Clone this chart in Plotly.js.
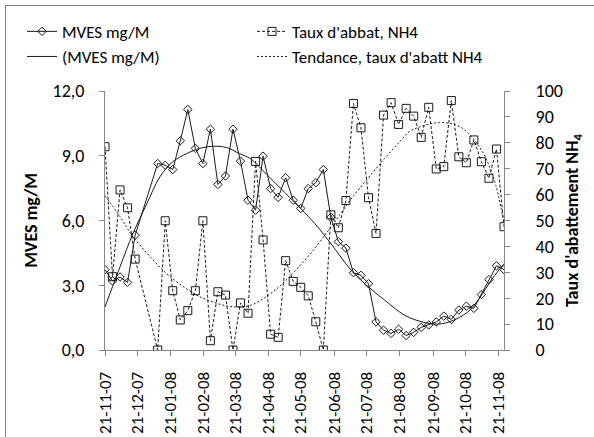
<!DOCTYPE html>
<html><head><meta charset="utf-8">
<script src="https://cdn.plot.ly/plotly-3.0.1.min.js"></script>
<style>
html,body{margin:0;padding:0;background:#fff;overflow:hidden;}
#chart{position:absolute;left:0;top:0;width:594px;height:437px;}
#frame{position:absolute;left:5px;top:5px;width:640px;height:480px;border-left:1px solid #7f7f7f;border-top:1px solid #7f7f7f;pointer-events:none;}
</style>
</head><body>
<div id="chart"></div><div id="frame"></div>
<script>
const sampleDates = ['2007-11-21','2007-11-28','2007-12-05','2007-12-12','2007-12-19',
'2008-01-09','2008-01-16','2008-01-23','2008-01-30','2008-02-06','2008-02-13','2008-02-20','2008-02-27',
'2008-03-05','2008-03-12','2008-03-19','2008-03-26','2008-04-02','2008-04-09','2008-04-16','2008-04-23','2008-04-30',
'2008-05-07','2008-05-14','2008-05-21','2008-05-28','2008-06-04','2008-06-11','2008-06-18','2008-06-25',
'2008-07-02','2008-07-09','2008-07-16','2008-07-23','2008-07-30','2008-08-06','2008-08-13','2008-08-20','2008-08-27',
'2008-09-03','2008-09-10','2008-09-17','2008-09-24','2008-10-01','2008-10-08','2008-10-15','2008-10-22','2008-10-29',
'2008-11-05','2008-11-12','2008-11-19','2008-11-26'];
const mves = [3.72,3.20,3.38,3.13,5.32,
8.64,8.56,8.36,9.69,11.14,9.34,8.64,10.23,
7.67,8.06,10.23,8.75,6.94,6.48,8.98,7.48,7.07,
7.98,6.94,6.56,7.48,7.75,8.36,6.15,5.02,
4.72,3.58,3.46,3.07,1.30,0.92,0.77,0.96,0.67,
0.82,1.05,1.16,1.30,1.57,1.42,1.85,2.03,1.93,
2.57,3.26,3.90,3.72];
const tauxNH4 = [78.5,28.3,61.8,54.9,35.1,
0,49.9,22.9,11.6,15.2,22.9,49.9,3.6,
22.5,21.2,0,18.2,14.2,72.8,42.5,6.1,4.9,
34.5,26.5,24.2,20.9,10.9,0,52.2,47.2,
57.7,95.2,85.8,58.8,45.0,90.7,95.5,87.1,93.3,
90.3,82.1,93.7,69.9,70.8,96.3,74.6,72.3,81.1,
72.7,66.3,77.6,47.6];
const mvesTrendDates = ['2007-11-21','2007-12-05','2007-12-17','2007-12-30','2008-01-11','2008-01-23','2008-02-05','2008-02-17','2008-03-01','2008-03-13','2008-03-25','2008-04-04','2008-04-22','2008-05-21','2008-06-03','2008-06-17','2008-07-08','2008-07-24','2008-08-07','2008-08-26','2008-09-11','2008-09-24','2008-10-06','2008-10-23','2008-11-03','2008-11-15','2008-11-26'];
const mvesTrend = [2.0,3.86,5.4,6.79,8.02,8.72,9.1,9.34,9.44,9.38,9.1,8.87,8.0,6.55,5.86,5.0,3.63,2.88,2.31,1.6,1.3,1.2,1.3,1.75,2.39,3.3,4.0];
const tauxTrendDates = ['2007-11-21','2007-12-05','2007-12-17','2008-01-02','2008-01-17','2008-02-02','2008-02-17','2008-03-04','2008-03-19','2008-04-04','2008-04-22','2008-05-06','2008-05-29','2008-06-19','2008-06-26','2008-07-09','2008-07-30','2008-08-07','2008-08-21','2008-08-30','2008-09-09','2008-09-27','2008-10-16','2008-11-03','2008-11-16','2008-11-26'];
const tauxTrend = [59.5,51.5,43.7,36.0,29.6,24.4,20.6,18.0,16.7,17.2,21.5,26.4,36.7,48,52,59.5,70,74,80.4,84.3,86.2,87.8,86.2,78.5,66.9,48.9];
const tickDates = ['2007-11-21','2007-12-21','2008-01-21','2008-02-21','2008-03-21','2008-04-21','2008-05-21','2008-06-21','2008-07-21','2008-08-21','2008-09-21','2008-10-21','2008-11-21'];
const tickLabels = ['21-11-07','21-12-07','21-01-08','21-02-08','21-03-08','21-04-08','21-05-08','21-06-08','21-07-08','21-08-08','21-09-08','21-10-08','21-11-08'];

const FONT = 'Carlito, Lato, sans-serif';
const AX = '#868686';
const INK = '#1a1a1a';

const traces = [
  {x: sampleDates, y: mves, name: 'MVES mg/M', type: 'scatter', mode: 'lines+markers',
   line: {color: INK, width: 1}, marker: {symbol: 'diamond-open', size: 6.5, color: INK, line: {width: 1, color: INK}}, yaxis: 'y'},
  {x: sampleDates, y: tauxNH4, name: "Taux d'abbat, NH4", type: 'scatter', mode: 'lines+markers',
   line: {color: INK, width: 1, dash: '3px,2px'}, marker: {symbol: 'square-open', size: 8, color: INK, line: {width: 1, color: INK}}, yaxis: 'y2'},
  {x: mvesTrendDates, y: mvesTrend, name: '(MVES mg/M)', type: 'scatter', mode: 'lines',
   line: {color: INK, width: 1, shape: 'spline', smoothing: 1}, yaxis: 'y'},
  {x: tauxTrendDates, y: tauxTrend, name: "Tendance, taux d'abatt NH4", type: 'scatter', mode: 'lines',
   line: {color: INK, width: 1, dash: '2px,2px', shape: 'spline', smoothing: 1}, yaxis: 'y2'}
];

const layout = {
  width: 594, height: 437,
  margin: {l: 105, r: 90, t: 91, b: 87, pad: 0},
  paper_bgcolor: '#fff', plot_bgcolor: '#fff',
  separators: ', ',
  font: {family: FONT, size: 17, color: '#000'},
  showlegend: true,
  legend: {orientation: 'h', x: -0.208, xanchor: 'left', y: 1.298, yanchor: 'top',
           entrywidth: 185, entrywidthmode: 'pixels', bgcolor: 'rgba(0,0,0,0)',
           font: {family: FONT, size: 17, color: '#000'}, traceorder: 'normal', tracegroupgap: 0},
  xaxis: {type: 'date', range: ['2007-11-21', '2008-11-26'], tickvals: tickDates, ticktext: tickLabels,
          tickangle: -90, ticks: 'outside', ticklen: 5, tickcolor: AX, showline: true, linecolor: AX, linewidth: 1,
          showgrid: false, zeroline: false, tickfont: {family: FONT, size: 17}, ticklabelstandoff: 9},
  yaxis: {range: [0, 12], tick0: 0, dtick: 3, tickformat: '.1f', ticks: 'outside', ticklen: 5, tickcolor: AX,
          showline: true, linecolor: AX, linewidth: 1, showgrid: false, zeroline: false,
          tickfont: {family: FONT, size: 18}, ticklabelstandoff: 11,
          title: {text: '<b>MVES mg/M</b>', font: {family: FONT, size: 18}, standoff: 10}},
  yaxis2: {overlaying: 'y', side: 'right', range: [0, 100], tick0: 0, dtick: 10, ticks: 'outside', ticklen: 5, tickcolor: AX,
          showline: true, linecolor: AX, linewidth: 1, showgrid: false, zeroline: false,
          tickfont: {family: FONT, size: 18}, ticklabelstandoff: 22,
          title: {text: "<b>Taux d'abattement NH<sub>4</sub></b>", font: {family: FONT, size: 18}, standoff: 3}}
};

Plotly.newPlot('chart', traces, layout, {staticPlot: true, displayModeBar: false});
</script>
</body></html>
